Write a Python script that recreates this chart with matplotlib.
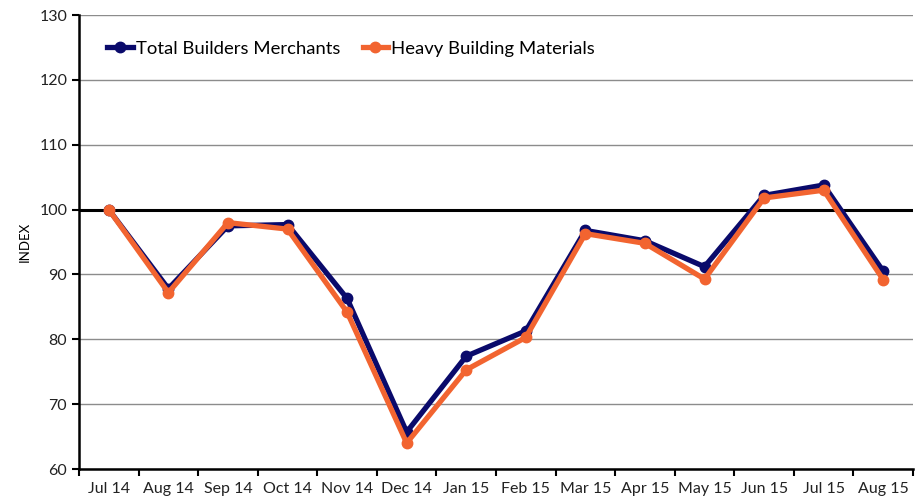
import matplotlib
matplotlib.use("Agg")
import matplotlib.pyplot as plt
import numpy as np

months = ["Jul 14", "Aug 14", "Sep 14", "Oct 14", "Nov 14", "Dec 14", "Jan 15",
          "Feb 15", "Mar 15", "Apr 15", "May 15", "Jun 15", "Jul 15", "Aug 15"]
total_bm = [100.0, 87.8, 97.5, 97.7, 86.3, 65.7, 77.4, 81.3, 96.8, 95.2, 91.2, 102.2, 103.8, 90.5]
heavy_bm = [100.0, 87.2, 98.0, 97.0, 84.2, 64.0, 75.3, 80.3, 96.3, 94.8, 89.3, 101.8, 103.0, 89.2]

plt.rcParams['font.family'] = ['Lato', 'DejaVu Sans']

fig = plt.figure(figsize=(9.2, 5.04), dpi=100)
ax = fig.add_axes([0.0859, 0.0694, 0.9065, 0.9006])

x = np.arange(len(months))
navy = "#0a0a6b"
orange = "#f26430"

ax.set_ylim(60, 130)
ax.set_xlim(-0.5, len(months) - 0.5)
ax.set_yticks(np.arange(60, 131, 10))
ax.yaxis.grid(True, color="#8c8c8c", linewidth=1.0)
ax.set_axisbelow(True)
ax.axhline(100, color="black", linewidth=2.2, zorder=2)

ax.plot(x, total_bm, color=navy, linewidth=3.8, marker="o", markersize=7.5,
        label="Total Builders Merchants", zorder=3, solid_joinstyle="round")
ax.plot(x, heavy_bm, color=orange, linewidth=3.8, marker="o", markersize=7.5,
        label="Heavy Building Materials", zorder=4, solid_joinstyle="round")

ax.set_xticks(x)
ax.set_xticklabels(months)
ax.set_xticks(np.arange(-0.5, len(months), 1), minor=True)
ax.tick_params(axis="x", which="major", length=0, pad=9, labelsize=11.5, colors="#222222")
ax.tick_params(axis="x", which="minor", length=5, width=1.5, direction="out", color="black")
ax.tick_params(axis="y", length=5, width=1.5, direction="out", labelsize=11.5, colors="#222222")
ax.tick_params(axis="y", color="black")

for s in ["top", "right"]:
    ax.spines[s].set_visible(False)
for s in ["left", "bottom"]:
    ax.spines[s].set_linewidth(1.8)
    ax.spines[s].set_color("black")

ax.set_ylabel("INDEX", fontsize=9.5, labelpad=6)

leg = ax.legend(loc="upper left", bbox_to_anchor=(0.014, 0.98), ncol=2, frameon=False,
                fontsize=13.3, handlelength=1.4, handletextpad=0.15, columnspacing=1.2,
                markerscale=1.0)

fig.savefig("out.png", dpi=100)
